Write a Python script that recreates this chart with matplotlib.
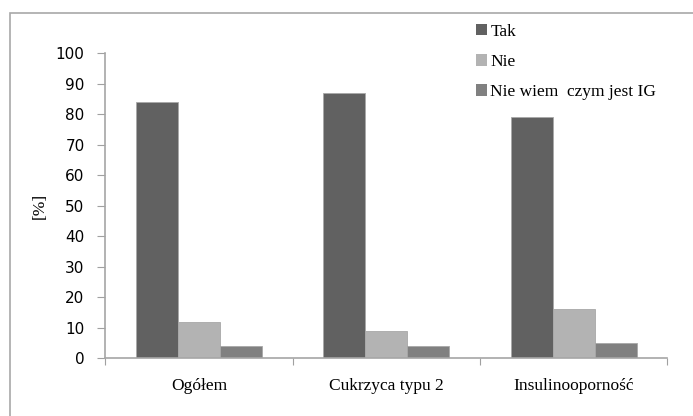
import numpy as np
import matplotlib
matplotlib.use('Agg')
import matplotlib.pyplot as plt
from matplotlib.patches import Rectangle

# Dane: odsetek odpowiedzi w grupach
grupy = ['Ogółem', 'Cukrzyca typu 2', 'Insulinooporność']
serie = ['Tak', 'Nie', 'Nie wiem  czym jest IG']
tak = [84, 87, 79]
nie = [12, 9, 16]
nie_wiem = [4, 4, 5]
wartosci = [tak, nie, nie_wiem]
kolory = ['#616161', '#b3b3b3', '#808080']

plt.rcParams['font.family'] = ['Liberation Serif', 'DejaVu Serif']

fig = plt.figure(figsize=(6.93, 4.16), dpi=100)
ax = fig.add_axes([0.1521, 0.1387, 0.8111, 0.7332])

x = np.arange(len(grupy))
szer = 0.224
for i, (nazwa, dane, kol) in enumerate(zip(serie, wartosci, kolory)):
    ax.bar(x + (i - 1) * szer, dane, width=szer, color=kol,
           edgecolor='#a8a8a8', linewidth=0.6, label=nazwa)

ax.set_xlim(-0.5, 2.5)
ax.set_ylim(0, 100)
ax.set_yticks(range(0, 101, 10))
ax.set_yticklabels([str(v) for v in range(0, 101, 10)],
                   fontfamily='DejaVu Sans', fontsize=11)
ax.set_xticks([-0.5, 0.5, 1.5, 2.5])
ax.set_xticklabels([])
ax.set_xticks(x, minor=True)
ax.set_xticklabels(grupy, minor=True, fontsize=12.5)
ax.tick_params(axis='x', which='minor', length=0, pad=14)
ax.tick_params(axis='x', which='major', length=5, color='#a0a0a0')
ax.tick_params(axis='y', length=6, pad=9, color='#a0a0a0')

for s in ['top', 'right']:
    ax.spines[s].set_visible(False)
for s in ['left', 'bottom']:
    ax.spines[s].set_color('#a6a6a6')
    ax.spines[s].set_linewidth(1.2)

ax.set_ylabel('[%]', fontsize=12.5, labelpad=6)

leg = ax.legend(loc='upper left', bbox_to_anchor=(467 / 693, 1 - 15 / 416),
                bbox_transform=fig.transFigure, frameon=False, fontsize=12.5,
                handlelength=0.65, handleheight=0.65, handletextpad=0.2,
                labelspacing=0.82, borderpad=0)
for h in leg.legend_handles:
    h.set_edgecolor('none')

# ramka wokół wykresu
fig.add_artist(Rectangle((10 / 693, -0.1), 1.0, 1.1 - 13 / 416,
                         transform=fig.transFigure, fill=False,
                         edgecolor='#a8a8a8', linewidth=1.2))

fig.savefig('out.png', dpi=100)
